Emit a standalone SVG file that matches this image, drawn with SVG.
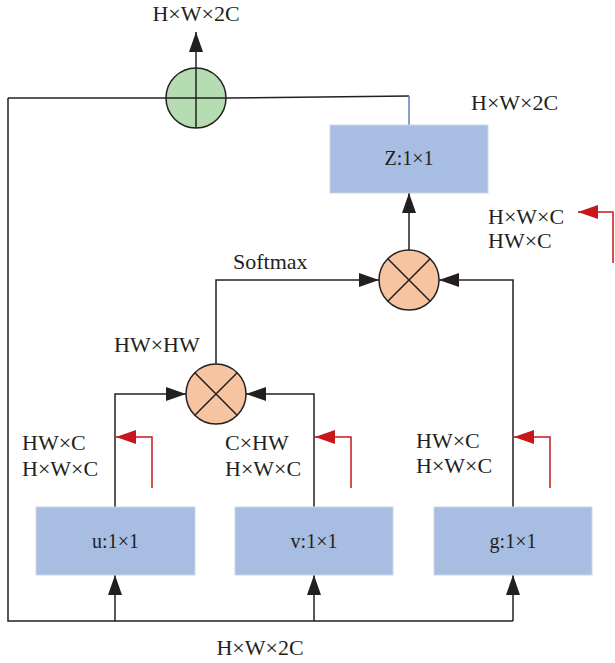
<svg xmlns="http://www.w3.org/2000/svg" width="615" height="663" viewBox="0 0 615 663">
<defs>
<marker id="ab" markerWidth="20" markerHeight="14" refX="20" refY="7" orient="auto" markerUnits="userSpaceOnUse"><path d="M0,0 L20,7 L0,14 Z" fill="#231f20"/></marker>
<marker id="ar" markerWidth="20" markerHeight="14" refX="20" refY="7" orient="auto" markerUnits="userSpaceOnUse"><path d="M0,0 L20,7 L0,14 Z" fill="#c8161d"/></marker>
</defs>
<style>
.t{font-family:"Liberation Serif","Times New Roman",serif;font-size:22px;fill:#231f20}
.bt{font-family:"Liberation Serif","Times New Roman",serif;font-size:20px;fill:#231f20;text-anchor:middle}
.box{fill:#a8bde2;stroke:#cdd5e4;stroke-width:1}
.ln{fill:none;stroke:#231f20;stroke-width:1.5}
.rl{fill:none;stroke:#c8161d;stroke-width:1.5}
.op{fill:#f6c4a1;stroke:#231f20;stroke-width:1.5}
.sum{fill:#b6dcb2;stroke:#231f20;stroke-width:1.5}
</style>
<g id="connectors">
<path class="ln" d="M8,98 L196,98"/>
<path class="ln" d="M8,98 L8,621 L513,621"/>
<path class="ln" d="M226,98 L409,96"/>
<path fill="none" stroke="#5b7fc0" stroke-width="1.5" d="M409,96 L409,125"/>
<path class="ln" d="M196,68 L196,32" marker-end="url(#ab)"/>
<path class="ln" d="M409,250 L409,193" marker-end="url(#ab)"/>
<path class="ln" d="M216,364 L216,280 L379,280" marker-end="url(#ab)"/>
<path class="ln" d="M513,507 L513,280 L439,280" marker-end="url(#ab)"/>
<path class="ln" d="M115,507 L115,394 L186,394" marker-end="url(#ab)"/>
<path class="ln" d="M314,507 L314,394 L246,394" marker-end="url(#ab)"/>
<path class="ln" d="M115,621 L115,575" marker-end="url(#ab)"/>
<path class="ln" d="M314,621 L314,575" marker-end="url(#ab)"/>
<path class="ln" d="M513,621 L513,575" marker-end="url(#ab)"/>
<path class="rl" d="M152,488 L152,437 L116,437" marker-end="url(#ar)"/>
<path class="rl" d="M351,488 L351,437 L315,437" marker-end="url(#ar)"/>
<path class="rl" d="M550,488 L550,437 L514,437" marker-end="url(#ar)"/>
<path class="rl" d="M613,263 L613,212 L578,212" marker-end="url(#ar)"/>
</g>
<g id="sum">
<circle class="sum" cx="196" cy="98" r="30"/>
<path class="ln" d="M166,98 L226,98 M196,68 L196,128"/>
</g>
<g id="z">
<rect class="box" x="330" y="125" width="158" height="68"/>
<text class="bt" x="409" y="165">Z:1×1</text>
</g>
<g id="mul2">
<circle class="op" cx="409" cy="280" r="30"/>
<path class="ln" d="M387.8,258.8 L430.2,301.2 M430.2,258.8 L387.8,301.2"/>
</g>
<g id="mul1">
<circle class="op" cx="216" cy="394" r="30"/>
<path class="ln" d="M194.8,372.8 L237.2,415.2 M237.2,372.8 L194.8,415.2"/>
</g>
<g id="u">
<rect class="box" x="36" y="507" width="159" height="68"/>
<text class="bt" x="115.5" y="548">u:1×1</text>
</g>
<g id="v">
<rect class="box" x="235" y="507" width="158" height="68"/>
<text class="bt" x="314" y="548">v:1×1</text>
</g>
<g id="g">
<rect class="box" x="434" y="507" width="158" height="68"/>
<text class="bt" x="513" y="548">g:1×1</text>
</g>
<g id="labels">
<text class="t" x="196" y="21" text-anchor="middle">H×W×2C</text>
<text class="t" x="471" y="110">H×W×2C</text>
<text class="t" x="488" y="224">H×W×C</text>
<text class="t" x="488" y="248">HW×C</text>
<text class="t" x="233" y="269">Softmax</text>
<text class="t" x="114" y="352">HW×HW</text>
<text class="t" x="22" y="450">HW×C</text>
<text class="t" x="22" y="476">H×W×C</text>
<text class="t" x="225" y="450">C×HW</text>
<text class="t" x="225" y="476">H×W×C</text>
<text class="t" x="416" y="448">HW×C</text>
<text class="t" x="416" y="473">H×W×C</text>
<text class="t" x="260" y="655" text-anchor="middle">H×W×2C</text>
</g>
</svg>
